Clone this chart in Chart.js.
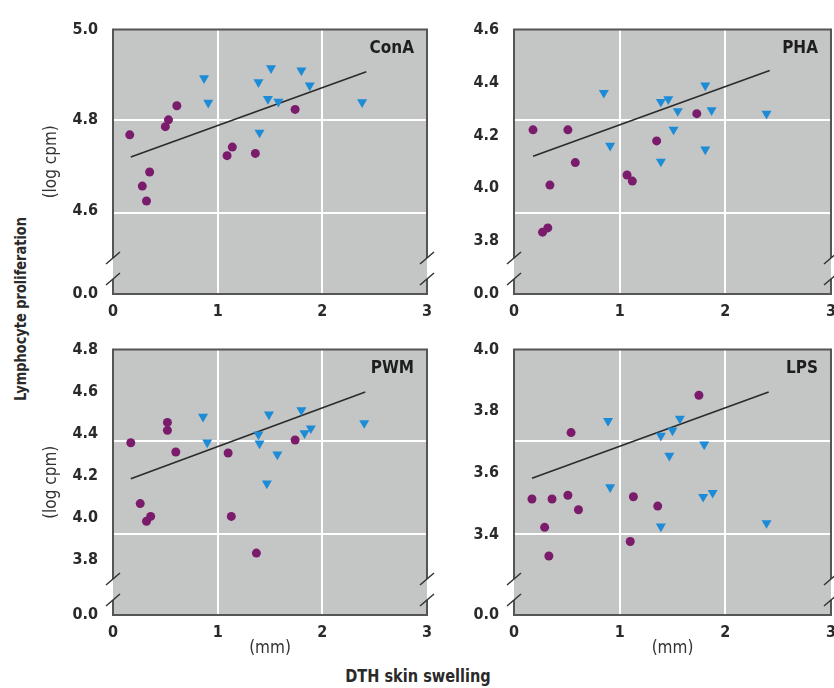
<!DOCTYPE html>
<html>
<head>
<meta charset="utf-8">
<script src="https://cdn.jsdelivr.net/npm/chart.js@4.4.1/dist/chart.umd.min.js"></script>
<style>
html, body { margin: 0; padding: 0; width: 834px; height: 688px; overflow: hidden; background: #fff; }
.panel { position: absolute; }
.label { position: absolute; font-family: 'Liberation Sans Narrow', 'DejaVu Sans Condensed', sans-serif; color: #2a2a2a; white-space: nowrap; font-weight: bold; font-size: 17px; }
</style>
</head>
<body>
<div class="panel" style="left:40px;top:5px;width:400px;height:315px"><canvas id="conaChart"></canvas></div>
<div class="panel" style="left:441px;top:5px;width:403px;height:315px"><canvas id="phaChart"></canvas></div>
<div class="panel" style="left:40px;top:325px;width:400px;height:336px"><canvas id="pwmChart"></canvas></div>
<div class="panel" style="left:441px;top:325px;width:403px;height:336px"><canvas id="lpsChart"></canvas></div>
<div class="label" style="left:20px;top:309px;font-size:16px;transform:translate(-50%,-50%) rotate(-90deg) scaleX(0.9)">Lymphocyte proliferation</div>
<div class="label" style="left:418px;top:676px;transform:translate(-50%,-50%) scaleX(0.95)">DTH skin swelling</div>
<script>
const FONT = "'Liberation Sans Narrow', 'DejaVu Sans Condensed', sans-serif";
const PURPLE = '#7a1b6b';
const BLUE = '#1d8bd6';

const xTicks = [0, 1, 2, 3];
const gridFractions = [0.305, 0.657];

// ConA
const conaYTicks = [4.6, 4.8, 5.0];
const conaYMin = 4.417, conaYMax = 5.0;
const conaCircleX = [0.16, 0.28, 0.32, 0.35, 0.50, 0.53, 0.61, 1.09, 1.14, 1.36, 1.74];
const conaCircleY = [4.768, 4.655, 4.622, 4.686, 4.786, 4.801, 4.832, 4.722, 4.741, 4.727, 4.824];
const conaTriX = [0.87, 0.91, 1.39, 1.51, 1.40, 1.48, 1.58, 1.80, 1.88, 2.38];
const conaTriY = [4.893, 4.839, 4.884, 4.915, 4.773, 4.847, 4.841, 4.910, 4.877, 4.840];
const conaLineX = [0.17, 2.42];
const conaLineY = [4.719, 4.907];

// PHA
const phaYTicks = [3.8, 4.0, 4.2, 4.4, 4.6];
const phaYMin = 3.6, phaYMax = 4.6;
const phaCircleX = [0.18, 0.51, 0.58, 0.34, 0.27, 0.32, 1.07, 1.12, 1.35, 1.73];
const phaCircleY = [4.221, 4.221, 4.097, 4.012, 3.834, 3.850, 4.050, 4.027, 4.179, 4.282];
const phaTriX = [0.85, 0.91, 1.39, 1.46, 1.55, 1.51, 1.39, 1.81, 1.87, 1.81, 2.39];
const phaTriY = [4.361, 4.161, 4.327, 4.337, 4.292, 4.222, 4.101, 4.389, 4.295, 4.147, 4.282];
const phaLineX = [0.18, 2.42];
const phaLineY = [4.121, 4.445];

// PWM
const pwmYTicks = [3.8, 4.0, 4.2, 4.4, 4.6, 4.8];
const pwmYMin = 3.535, pwmYMax = 4.8;
const pwmCircleX = [0.17, 0.52, 0.52, 0.60, 0.26, 0.32, 0.36, 1.10, 1.13, 1.37, 1.74];
const pwmCircleY = [4.356, 4.453, 4.415, 4.312, 4.066, 3.982, 4.005, 4.307, 4.005, 3.830, 4.369];
const pwmTriX = [0.86, 0.90, 1.49, 1.39, 1.40, 1.57, 1.47, 1.80, 1.83, 1.89, 2.40];
const pwmTriY = [4.480, 4.358, 4.491, 4.396, 4.353, 4.300, 4.162, 4.511, 4.402, 4.425, 4.450];
const pwmLineX = [0.17, 2.41];
const pwmLineY = [4.185, 4.598];

// LPS
const lpsYTicks = [3.4, 3.6, 3.8, 4.0];
const lpsYMin = 3.14, lpsYMax = 4.0;
const lpsCircleX = [0.17, 0.36, 0.51, 0.61, 0.29, 0.33, 0.54, 1.13, 1.10, 1.36, 1.75];
const lpsCircleY = [3.516, 3.516, 3.528, 3.481, 3.424, 3.331, 3.731, 3.523, 3.378, 3.493, 3.852];
const lpsTriX = [0.89, 0.91, 1.39, 1.50, 1.57, 1.47, 1.39, 1.80, 1.79, 1.88, 2.39];
const lpsTriY = [3.769, 3.554, 3.721, 3.738, 3.776, 3.656, 3.427, 3.693, 3.523, 3.536, 3.438];
const lpsLineX = [0.17, 2.41];
const lpsLineY = [3.583, 3.863];

function pts(xs, ys) {
    return xs.map((x, i) => ({ x: x, y: ys[i] }));
}

// gray plot box, frame with axis breaks, panel name
const frame = {
    id: 'frame',
    beforeDraw(chart) {
        const a = chart.chartArea, ctx = chart.ctx;
        ctx.save();
        ctx.fillStyle = '#c4c6c6';
        ctx.fillRect(a.left, a.top, a.right - a.left, a.bottom - a.top);
        ctx.restore();
    },
    afterDatasetsDraw(chart, args, opts) {
        const a = chart.chartArea, ctx = chart.ctx;
        const b1 = a.bottom - 36, b2 = a.bottom - 15;
        ctx.save();
        ctx.strokeStyle = '#555';
        ctx.lineWidth = 2;
        ctx.beginPath();
        ctx.moveTo(a.left, b1); ctx.lineTo(a.left, a.top); ctx.lineTo(a.right, a.top); ctx.lineTo(a.right, b1);
        ctx.moveTo(a.left, b2); ctx.lineTo(a.left, a.bottom); ctx.lineTo(a.right, a.bottom); ctx.lineTo(a.right, b2);
        ctx.stroke();
        ctx.strokeStyle = '#333';
        ctx.lineWidth = 1.5;
        ctx.beginPath();
        [a.left, a.right].forEach(x => {
            [b1, b2].forEach(y => {
                ctx.moveTo(x - 7, y + 6);
                ctx.lineTo(x + 7, y - 6);
            });
        });
        ctx.stroke();
        ctx.fillStyle = '#1e1e1e';
        ctx.font = 'bold 17px ' + FONT;
        ctx.textAlign = 'right';
        ctx.textBaseline = 'middle';
        ctx.fillText(opts.title, a.right - 13, a.top + 19);
        ctx.restore();
    }
};

function makePanel(id, title, cx, cy, tx, ty, lx, ly, yMin, yMax, yTicks, leftSide, bottomRow) {
    new Chart(document.getElementById(id), {
        type: 'scatter',
        data: {
            datasets: [
                { data: pts(cx, cy), pointStyle: 'circle', pointRadius: 4.5, backgroundColor: PURPLE, borderWidth: 0 },
                { data: pts(tx, ty), pointStyle: 'triangle', rotation: 180, pointRadius: 5.8, backgroundColor: BLUE, borderWidth: 0 },
                { type: 'line', data: pts(lx, ly), borderColor: '#2a2a2a', borderWidth: 1.6, pointRadius: 0, fill: false }
            ]
        },
        options: {
            responsive: true,
            maintainAspectRatio: false,
            animation: false,
            events: [],
            layout: { padding: { top: 14, right: 8, left: 0, bottom: 0 } },
            plugins: { legend: { display: false }, tooltip: { enabled: false }, frame: { title: title } },
            scales: {
                x: {
                    type: 'linear', min: 0, max: 3,
                    afterBuildTicks: s => { s.ticks = xTicks.map(v => ({ value: v })); },
                    ticks: { font: { family: FONT, size: 16, weight: 'bold' }, color: '#2a2a2a', padding: 8, maxRotation: 0, autoSkip: false, callback: v => String(v) },
                    grid: { color: c => (c.tick && c.tick.value > 0 && c.tick.value < 3) ? '#ffffff' : 'rgba(0,0,0,0)', lineWidth: 2, drawTicks: false },
                    border: { display: false },
                    title: { display: bottomRow, text: '(mm)', font: { family: FONT, size: 17 }, color: '#333', padding: { top: 0, bottom: 2 } },
                    afterFit: s => { s.height = bottomRow ? 46 : 26; }
                },
                y: {
                    type: 'linear', min: yMin, max: yMax,
                    afterBuildTicks: s => { s.ticks = [yMin].concat(yTicks).map(v => ({ value: v })); },
                    ticks: { font: { family: FONT, size: 16, weight: 'bold' }, color: '#2a2a2a', padding: 15, autoSkip: false, callback: v => v === yMin ? '0.0' : v.toFixed(1) },
                    grid: { display: false, drawTicks: false },
                    border: { display: false },
                    title: { display: leftSide, text: '(log cpm)', font: { family: FONT, size: 17 }, color: '#333', padding: { top: 1, bottom: 0 } },
                    afterFit: s => { s.width = 73; }
                },
                yg: {
                    type: 'linear', position: 'right', min: 0, max: 1,
                    afterBuildTicks: s => { s.ticks = gridFractions.map(v => ({ value: v })); },
                    ticks: { display: false },
                    grid: { color: '#ffffff', lineWidth: 2, drawTicks: false },
                    border: { display: false },
                    afterFit: s => { s.width = 0; }
                }
            }
        },
        plugins: [frame]
    });
}

makePanel('conaChart', 'ConA', conaCircleX, conaCircleY, conaTriX, conaTriY, conaLineX, conaLineY, conaYMin, conaYMax, conaYTicks, true, false);
makePanel('phaChart', 'PHA', phaCircleX, phaCircleY, phaTriX, phaTriY, phaLineX, phaLineY, phaYMin, phaYMax, phaYTicks, false, false);
makePanel('pwmChart', 'PWM', pwmCircleX, pwmCircleY, pwmTriX, pwmTriY, pwmLineX, pwmLineY, pwmYMin, pwmYMax, pwmYTicks, true, true);
makePanel('lpsChart', 'LPS', lpsCircleX, lpsCircleY, lpsTriX, lpsTriY, lpsLineX, lpsLineY, lpsYMin, lpsYMax, lpsYTicks, false, true);
</script>
</body>
</html>
